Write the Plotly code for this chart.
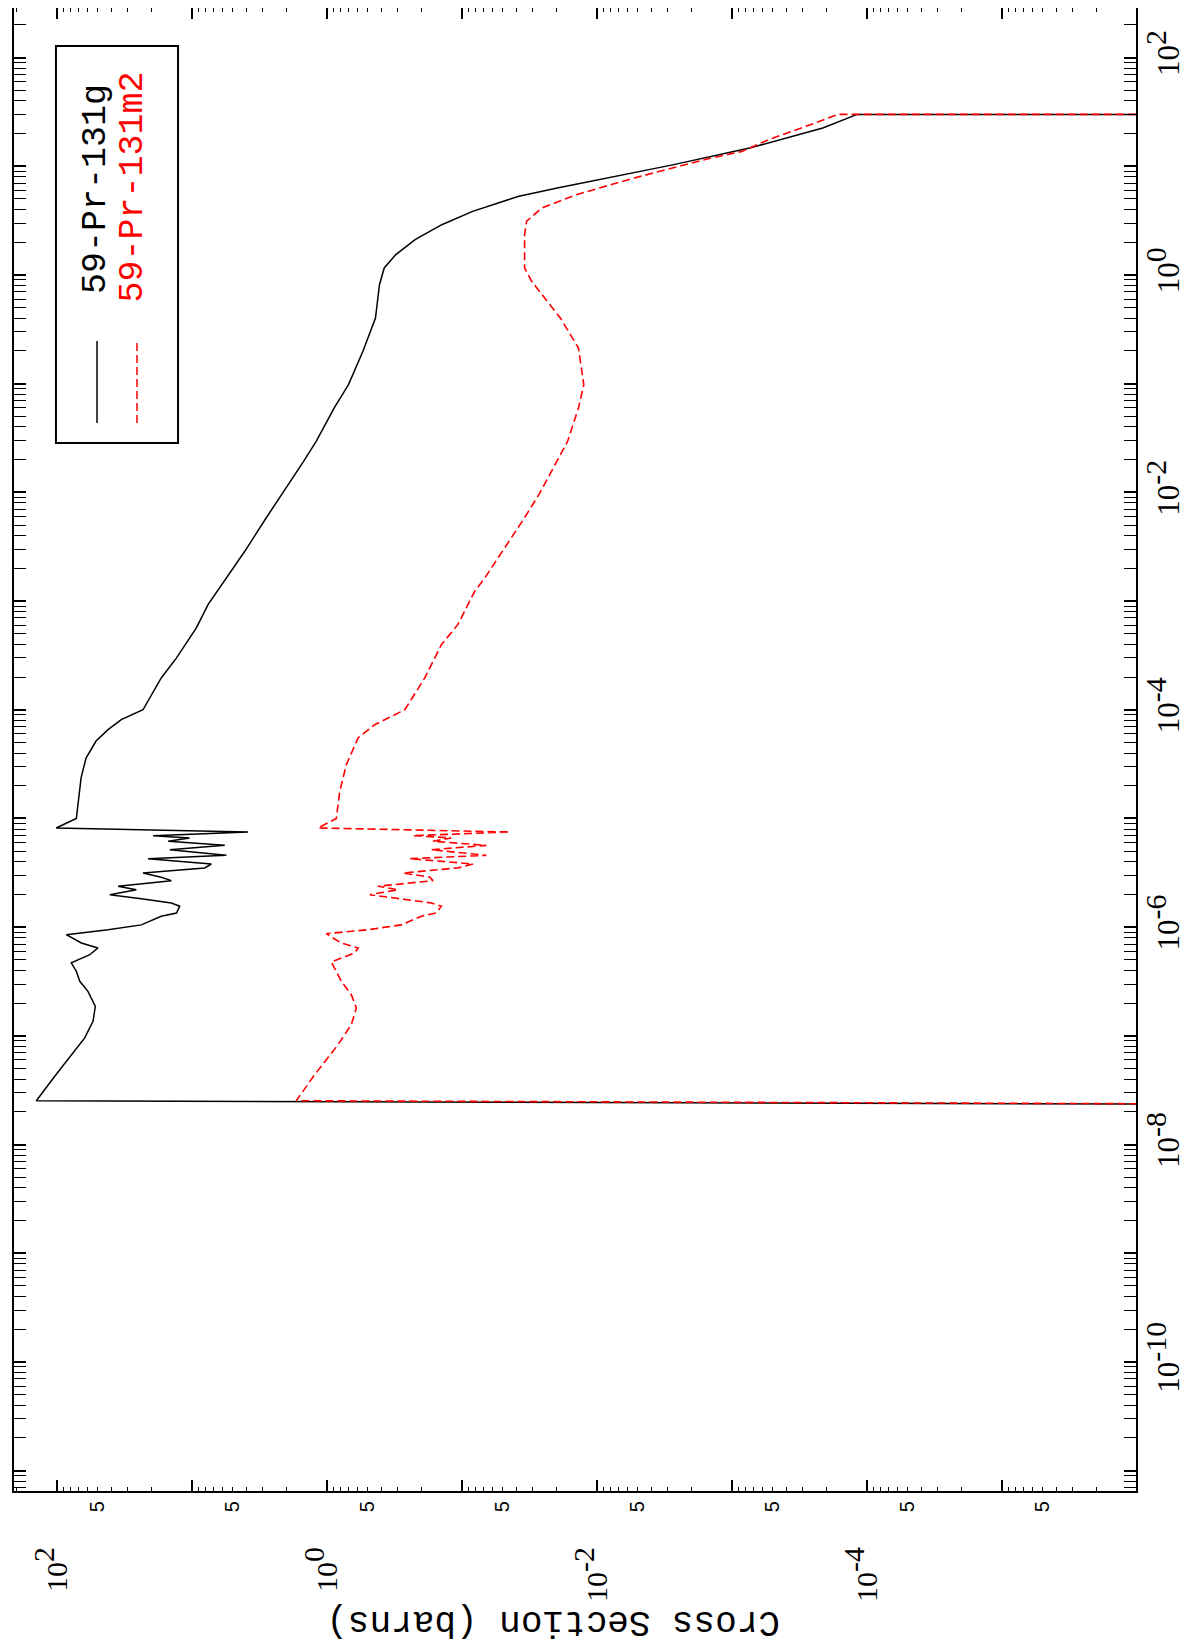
import plotly.graph_objects as go

# ---------------- data (energy in MeV, cross section in barns) ----------------
energy_131g = [2.28e-8, 2.53e-8, 4.25e-8, 6.71e-8, 9.57e-8, 1.36e-7, 1.87e-7, 2.57e-7,
               3.18e-7, 3.93e-7, 4.69e-7, 5.58e-7, 6.44e-7, 7.16e-7, 8.53e-7, 9.48e-7,
               1.05e-6, 1.26e-6, 1.35e-6, 1.56e-6, 1.67e-6, 1.83e-6, 1.99e-6, 2.21e-6,
               2.38e-6, 2.68e-6, 2.88e-6, 3.15e-6, 3.51e-6, 3.81e-6, 4.27e-6, 4.58e-6,
               5.16e-6, 5.66e-6, 6.17e-6, 6.62e-6, 6.95e-6, 7.51e-6, 8.18e-6, 1.0e-5,
               1.91e-5, 2.36e-5, 3.6e-5, 5.16e-5, 6.56e-5, 8.11e-5, 1.0e-4, 1.96e-4,
               3.0e-4, 5.66e-4, 9.27e-4, 1.88e-3, 2.87e-3, 5.81e-3, 1.02e-2, 1.93e-2,
               2.95e-2, 5.98e-2, 9.79e-2, 0.199, 0.402, 0.814, 1.16, 1.54, 2.11, 2.90,
               3.85, 5.30, 6.31, 8.09, 10.3, 14.7, 22.5, 30.0, 30.0]
xs_131g = [1e-10, 143, 104.5, 78.8, 62.7, 54.4, 52.3, 59.3,
           68.2, 72.3, 78.8, 57.5, 50.0, 66.4, 85.8, 42.1,
           23.9, 17.0, 13.1, 12.4, 14.3, 23.9, 40.9, 26.0,
           35.5, 14.3, 17.0, 23.2, 8.09, 7.23, 21.3, 5.60,
           14.7, 5.75, 15.1, 10.5, 19.5, 3.87, 102, 72.3,
           68.2, 66.7, 61.3, 51.7, 42.1, 33.6, 23.2, 17.0,
           13.1, 9.34, 7.65, 5.14, 4.09, 2.84, 2.10, 1.50,
           1.21, 0.889, 0.697, 0.545, 0.440, 0.411, 0.379, 0.311, 0.224, 0.142,
           0.0839, 0.0381, 0.0198, 7.41e-3, 2.77e-3, 7.46e-4, 2.14e-4, 1.19e-4, 1e-10]

energy_131m2 = [2.28e-8, 2.53e-8, 4.40e-8, 8.30e-8, 1.27e-7, 1.81e-7, 2.39e-7, 3.18e-7,
                4.79e-7, 5.79e-7, 6.44e-7, 7.16e-7, 8.71e-7, 9.48e-7, 1.05e-6, 1.26e-6,
                1.35e-6, 1.56e-6, 1.67e-6, 1.83e-6, 1.99e-6, 2.21e-6, 2.38e-6, 2.68e-6,
                2.88e-6, 3.15e-6, 3.51e-6, 3.81e-6, 4.27e-6, 4.58e-6, 5.16e-6, 5.66e-6,
                6.17e-6, 6.62e-6, 6.95e-6, 7.51e-6, 8.18e-6, 1.0e-5, 1.78e-5, 3.13e-5,
                5.51e-5, 7.29e-5, 1.0e-4, 1.96e-4, 3.97e-4, 6.07e-4, 1.23e-3, 1.63e-3,
                3.08e-3, 5.81e-3, 9.53e-3, 1.46e-2, 2.95e-2, 5.98e-2, 9.79e-2, 0.213,
                0.402, 0.875, 1.16, 2.35, 3.12, 4.13, 5.48, 7.80, 11.9, 13.7, 17.6,
                25.0, 30.0, 30.0]
xs_131m2 = [1e-10, 1.70, 1.24, 0.833, 0.664, 0.610, 0.664, 0.788,
            0.934, 0.627, 0.592, 0.792, 1.02, 0.500, 0.283, 0.201,
            0.156, 0.143, 0.170, 0.283, 0.485, 0.300, 0.421, 0.165,
            0.174, 0.275, 0.108, 0.0833, 0.245, 0.0664, 0.170, 0.0664,
            0.165, 0.121, 0.232, 0.0446, 1.17, 0.858, 0.809, 0.723,
            0.592, 0.446, 0.267, 0.190, 0.143, 0.108, 0.0810, 0.0682,
            0.0485, 0.0347, 0.0271, 0.0226, 0.0166, 0.0138, 0.0126, 0.0138,
            0.0188, 0.0307, 0.0346, 0.0346, 0.0334, 0.0258, 0.0143, 5.33e-3, 1.44e-3, 8.51e-4, 5.37e-4,
            2.44e-4, 1.65e-4, 1e-10]

assert len(energy_131g) == len(xs_131g)
assert len(energy_131m2) == len(xs_131m2)

# tick definitions
xs_decade_exps = [-6, -5, -4, -3, -2, -1, 0, 1, 2]
xs_labelled_exps = [-4, -2, 0, 2]
xs_five_ticks = [5e-6, 5e-5, 5e-4, 5e-3, 5e-2, 5e-1, 5e0, 5e1]
xs_five_labels = ["5"] * len(xs_five_ticks)
e_decade_exps = list(range(-11, 3))
e_labelled_exps = [-10, -8, -6, -4, -2, 0, 2]
legend_labels = ["59-Pr-131g", "59-Pr-131m2"]
axis_title = "Cross Section (barns)"

def lbl(n):
    return '10<sup><span style="font-size:30px">%s</span></sup>' % (("-" if n < 0 else "") + str(abs(n)))

xs_tickvals = [10.0 ** n for n in xs_decade_exps]
xs_ticktext = [lbl(n) if n in xs_labelled_exps else "" for n in xs_decade_exps]
e_tickvals = [10.0 ** n for n in e_decade_exps]
e_ticktext = [lbl(n) if n in e_labelled_exps else "" for n in e_decade_exps]
xs_minor = [k * 10.0 ** n for n in range(-7, 3) for k in range(2, 10)]
e_minor = [k * 10.0 ** n for n in range(-12, 3) for k in range(2, 10)]

XS_RANGE = [2.321, -5.990]
E_RANGE = [-11.187, 2.456]

fig = go.Figure()
fig.add_trace(go.Scatter(x=xs_131g, y=energy_131g, mode="lines",
                         line=dict(color="black", width=1.5), hoverinfo="skip"))
fig.add_trace(go.Scatter(x=xs_131m2, y=energy_131m2, mode="lines",
                         line=dict(color="#ff0000", width=1.6, dash="8px,4px"), hoverinfo="skip"))
fig.add_trace(go.Scatter(x=[1.0], y=[1.0], xaxis="x2", yaxis="y", mode="markers",
                         marker=dict(opacity=0), hoverinfo="skip"))

fig.update_layout(
    width=1194, height=1651,
    margin=dict(l=6, r=66, t=0, b=168, autoexpand=False),
    paper_bgcolor="white", plot_bgcolor="white",
    showlegend=False,
    xaxis=dict(type="log", range=XS_RANGE, tickmode="array", tickvals=xs_tickvals,
               ticktext=xs_ticktext, ticks="inside", ticklen=11, tickwidth=1.5,
               tickcolor="black", showline=True, linewidth=2, linecolor="black",
               mirror="allticks", showgrid=False, zeroline=False, tickangle=-90,
               tickfont=dict(family="Liberation Serif", size=30, color="black"),
               ticklabelstandoff=42,
               minor=dict(tickmode="array", tickvals=xs_minor, ticks="inside",
                          ticklen=4, tickwidth=1, tickcolor="black", showgrid=False)),
    xaxis2=dict(type="log", range=XS_RANGE, overlaying="x", anchor="y", side="bottom",
                tickmode="array", tickvals=xs_five_ticks, ticktext=xs_five_labels,
                ticks="", showline=False, showgrid=False, zeroline=False, tickangle=-90,
                tickfont=dict(family="Liberation Sans", size=20, color="black"),
                ticklabelstandoff=5),
    yaxis=dict(type="log", range=E_RANGE, side="right", tickmode="array",
               tickvals=e_tickvals, ticktext=e_ticktext, ticks="inside", ticklen=12,
               tickwidth=1.5, tickcolor="black", showline=True, linewidth=2,
               linecolor="black", mirror="allticks", showgrid=False, zeroline=False,
               tickangle=-90,
               tickfont=dict(family="Liberation Serif", size=31, color="black"),
               ticklabelstandoff=4,
               minor=dict(tickmode="array", tickvals=e_minor, ticks="inside",
                          ticklen=6, tickwidth=1, tickcolor="black", showgrid=False)),
)

# axis title (upside down, as in the rotated original)
fig.add_annotation(text=axis_title, xref="paper", yref="paper", x=0.4804, y=-0.088,
                   showarrow=False, textangle=180, xanchor="center", yanchor="middle",
                   font=dict(family="Liberation Mono", size=36, color="black"))

# legend box
fig.add_shape(type="rect", xref="paper", yref="paper", x0=0.0374, x1=0.1462,
              y0=0.7067, y1=0.9744, line=dict(color="black", width=2),
              fillcolor="white", layer="above")
fig.add_shape(type="line", xref="paper", yref="paper", x0=0.0740, x1=0.0740,
              y0=0.7202, y1=0.7754, line=dict(color="black", width=1.5))
fig.add_shape(type="line", xref="paper", yref="paper", x0=0.1096, x1=0.1096,
              y0=0.7202, y1=0.7754, line=dict(color="#ff0000", width=1.5, dash="8px,4px"))
fig.add_annotation(text=legend_labels[0], xref="paper", yref="paper", x=0.0731, y=0.878,
                   showarrow=False, textangle=-90, xanchor="center", yanchor="middle",
                   font=dict(family="Liberation Mono", size=35, color="black"))
fig.add_annotation(text=legend_labels[1], xref="paper", yref="paper", x=0.1061, y=0.879,
                   showarrow=False, textangle=-90, xanchor="center", yanchor="middle",
                   font=dict(family="Liberation Mono", size=35, color="#ff0000"))

fig.write_html("out.html")
